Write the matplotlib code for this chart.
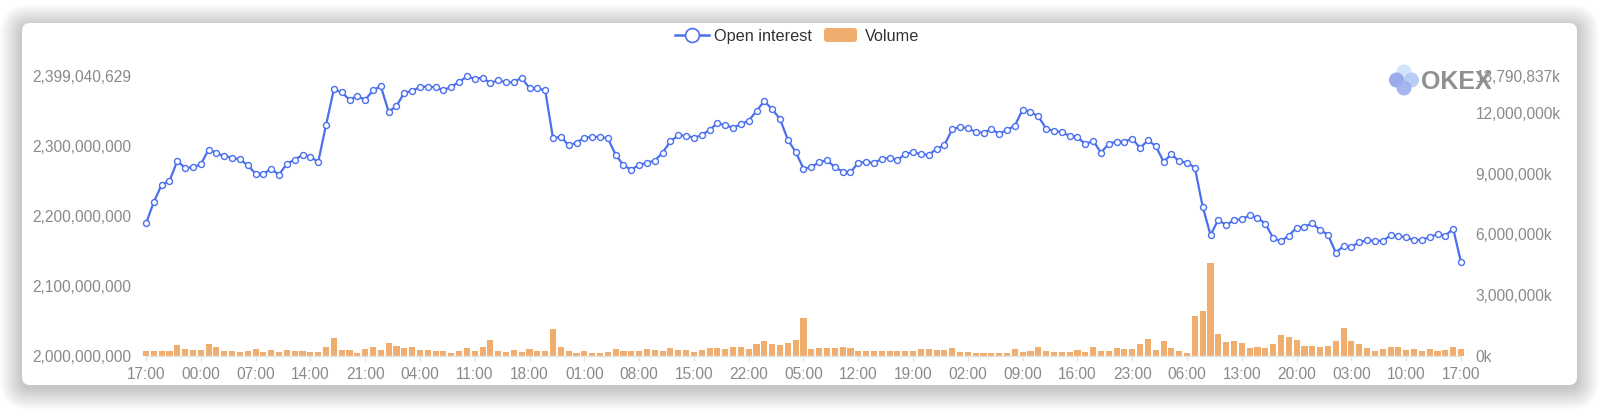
import matplotlib

matplotlib.use("Agg")
import matplotlib.pyplot as plt
from matplotlib.patches import FancyBboxPatch, Circle
from matplotlib.lines import Line2D
import numpy as np

plt.rcParams["font.family"] = ["Liberation Sans", "DejaVu Sans"]

# open interest, millions (hourly, 7 days)
open_interest_m = [
    2189.3, 2219.8, 2244.5, 2249.8, 2278.3, 2268.3, 2269.3, 2273.5, 2294.5, 2289.7,
    2285.0, 2283.1, 2280.7, 2272.1, 2260.2, 2260.2, 2266.9, 2258.8, 2274.5, 2280.2,
    2286.9, 2284.5, 2276.9, 2329.7, 2380.6, 2376.3, 2365.8, 2371.1, 2365.4, 2379.2,
    2384.9, 2348.7, 2356.8, 2375.8, 2378.2, 2383.9, 2384.4, 2383.4, 2379.2, 2384.4,
    2391.0, 2399.04, 2395.8, 2397.2, 2389.6, 2393.4, 2390.6, 2391.0, 2397.2, 2382.0,
    2382.0, 2379.2, 2310.7, 2313.0, 2300.7, 2304.5, 2311.6, 2312.6, 2312.6, 2310.7,
    2287.3, 2272.1, 2265.9, 2272.6, 2275.9, 2278.8, 2290.2, 2306.4, 2314.9, 2314.5,
    2311.6, 2314.9, 2323.0, 2332.1, 2329.2, 2325.9, 2330.6, 2335.9, 2349.7, 2363.9,
    2352.0, 2338.2, 2308.7, 2291.1, 2267.4, 2269.3, 2276.9, 2279.3, 2269.7, 2263.1,
    2262.1, 2275.9, 2276.9, 2275.4, 2281.2, 2283.1, 2279.7, 2288.3, 2291.1, 2287.8,
    2287.3, 2295.4, 2301.1, 2323.5, 2326.8, 2324.9, 2319.7, 2318.7, 2323.5, 2317.3,
    2322.5, 2328.7, 2351.6, 2348.2, 2342.0, 2324.4, 2321.1, 2319.7, 2314.0, 2312.6,
    2302.1, 2307.3, 2290.2, 2303.0, 2305.9, 2305.9, 2310.2, 2296.9, 2307.8, 2299.7,
    2277.4, 2287.8, 2277.8, 2275.9, 2268.8, 2213.1, 2172.7, 2194.6, 2186.5, 2194.1,
    2195.1, 2200.8, 2197.4, 2188.9, 2168.4, 2163.7, 2171.7, 2183.2, 2184.6, 2189.3,
    2179.8, 2173.2, 2147.5, 2157.0, 2155.6, 2162.7, 2165.1, 2164.6, 2164.1, 2172.2,
    2170.8, 2169.8, 2165.1, 2166.0, 2169.4, 2174.1, 2171.7, 2181.7, 2133.7,
]

# volume, millions of k
volume_mk = [
    0.26, 0.26, 0.26, 0.26, 0.54, 0.35, 0.28, 0.28, 0.58, 0.44,
    0.25, 0.25, 0.20, 0.23, 0.33, 0.21, 0.30, 0.21, 0.30, 0.26,
    0.26, 0.20, 0.21, 0.44, 0.87, 0.30, 0.28, 0.15, 0.35, 0.44,
    0.28, 0.62, 0.49, 0.41, 0.44, 0.28, 0.30, 0.23, 0.26, 0.15,
    0.25, 0.39, 0.25, 0.46, 0.79, 0.26, 0.21, 0.28, 0.21, 0.35,
    0.25, 0.25, 1.33, 0.46, 0.26, 0.16, 0.26, 0.16, 0.13, 0.20,
    0.36, 0.25, 0.23, 0.23, 0.35, 0.28, 0.26, 0.38, 0.31, 0.30,
    0.20, 0.30, 0.41, 0.39, 0.33, 0.44, 0.46, 0.33, 0.61, 0.74,
    0.61, 0.56, 0.66, 0.79, 1.86, 0.35, 0.38, 0.41, 0.41, 0.43,
    0.39, 0.26, 0.26, 0.26, 0.26, 0.25, 0.26, 0.25, 0.26, 0.36,
    0.35, 0.28, 0.30, 0.38, 0.20, 0.18, 0.15, 0.15, 0.15, 0.13,
    0.15, 0.33, 0.18, 0.25, 0.44, 0.26, 0.18, 0.21, 0.21, 0.28,
    0.21, 0.43, 0.26, 0.26, 0.41, 0.35, 0.35, 0.58, 0.84, 0.30,
    0.74, 0.41, 0.25, 0.16, 1.97, 2.22, 4.59, 1.10, 0.67, 0.72,
    0.62, 0.39, 0.46, 0.38, 0.58, 1.04, 0.92, 0.79, 0.48, 0.48,
    0.44, 0.51, 0.74, 1.36, 0.72, 0.61, 0.39, 0.25, 0.33, 0.43,
    0.43, 0.30, 0.33, 0.26, 0.33, 0.26, 0.28, 0.43, 0.36,
]

hour_labels = [
    "17:00", "00:00", "07:00", "14:00", "21:00", "04:00", "11:00", "18:00",
    "01:00", "08:00", "15:00", "22:00", "05:00", "12:00", "19:00", "02:00",
    "09:00", "16:00", "23:00", "06:00", "13:00", "20:00", "03:00", "10:00", "17:00",
]

oi_max = 2399.040629
vol_max = 13.790837
oi_ticks = [2000, 2100, 2200, 2300, oi_max]
vol_ticks = [0, 3, 6, 9, 12, vol_max]

line_color = "#4a70ee"
bar_color = "#f0ae6e"
label_color = "#8a8a8a"
W, H = 1600, 409

fig = plt.figure(figsize=(16, 4.09), dpi=100)
fig.patch.set_facecolor("white")

# card with soft shadow, pixel coords
bg = fig.add_axes([0, 0, 1, 1], zorder=0)
bg.set_xlim(0, W)
bg.set_ylim(H, 0)
bg.axis("off")
for k in range(14):
    grow = 1 + k * 1.6
    bg.add_patch(FancyBboxPatch(
        (22 - grow, 26 - grow), 1555 + 2 * grow, 362 + 2 * grow,
        boxstyle=f"round,pad=0,rounding_size={8 + grow}",
        facecolor="black", edgecolor="none", alpha=0.016,
    ))
bg.add_patch(FancyBboxPatch(
    (22, 23), 1555, 362, boxstyle="round,pad=0,rounding_size=8",
    facecolor="white", edgecolor="none",
))

ax = fig.add_axes([146 / W, 53 / H, 1315 / W, 279.6 / H])
ax2 = ax.twinx()
ax.set_zorder(3)
ax2.set_zorder(2)
ax.patch.set_visible(False)
ax2.patch.set_visible(False)

x = np.arange(len(open_interest_m))
ax2.bar(x, volume_mk, width=0.78, color=bar_color, clip_on=False)
ax.plot(x, open_interest_m, color=line_color, linewidth=1.6, marker="o",
        markersize=4.3, markerfacecolor="white", markeredgecolor=line_color,
        markeredgewidth=1.0, clip_on=False, zorder=3)

ax.set_xlim(0, len(x) - 1)
ax.set_ylim(2000, oi_max)
ax2.set_ylim(0, vol_max)

ax.set_yticks(oi_ticks)
ax.set_yticklabels([f"{v * 1e6:,.0f}" for v in oi_ticks])
ax2.set_yticks(vol_ticks)
ax2.set_yticklabels([f"{v * 1e6:,.0f}k" for v in vol_ticks])
ax.set_xticks(x[::7])
ax.set_xticklabels(hour_labels)

ax.tick_params(axis="y", length=0, pad=10.5, labelsize=11.2, labelcolor=label_color)
ax2.tick_params(axis="y", length=0, pad=10.5, labelsize=11.2, labelcolor=label_color)
ax.tick_params(axis="x", length=3.6, width=1, color="#e3e3e3", pad=4,
               labelsize=11.2, labelcolor=label_color)

for a in (ax, ax2):
    for side in ("top", "left", "right", "bottom"):
        a.spines[side].set_visible(False)
ax.spines["bottom"].set_visible(True)
ax.spines["bottom"].set_color("#e3e3e3")
ax.spines["bottom"].set_linewidth(1)

# legend and logo overlay, pixel coords
ov = fig.add_axes([0, 0, 1, 1], zorder=5)
ov.set_xlim(0, W)
ov.set_ylim(H, 0)
ov.axis("off")
ov.patch.set_visible(False)

ov.add_line(Line2D([675, 709], [35, 35], color=line_color, linewidth=1.8))
ov.plot([692], [35], marker="o", markersize=10, markerfacecolor="white",
        markeredgecolor=line_color, markeredgewidth=1.2)
ov.text(714, 35, "Open interest", fontsize=11.7, color="#333333", va="center_baseline")
ov.add_patch(FancyBboxPatch((824, 28), 33, 14, boxstyle="round,pad=0,rounding_size=3",
                            facecolor=bar_color, edgecolor="none"))
ov.text(865, 35, "Volume", fontsize=11.7, color="#333333", va="center_baseline")

for cx, cy, col in [(1404, 72, "#cddff9"), (1396.5, 80, "#8fa3ea"),
                    (1411.5, 80, "#b3c8f5"), (1404, 88, "#9cb0ef")]:
    ov.add_patch(Circle((cx, cy), 7.5, facecolor=col, edgecolor="none", alpha=0.9))
ov.text(1421, 89, "OKEX", fontsize=18, fontweight="bold", color="#909090",
        va="baseline", ha="left")

fig.savefig("out.png", dpi=100, facecolor=fig.get_facecolor())
